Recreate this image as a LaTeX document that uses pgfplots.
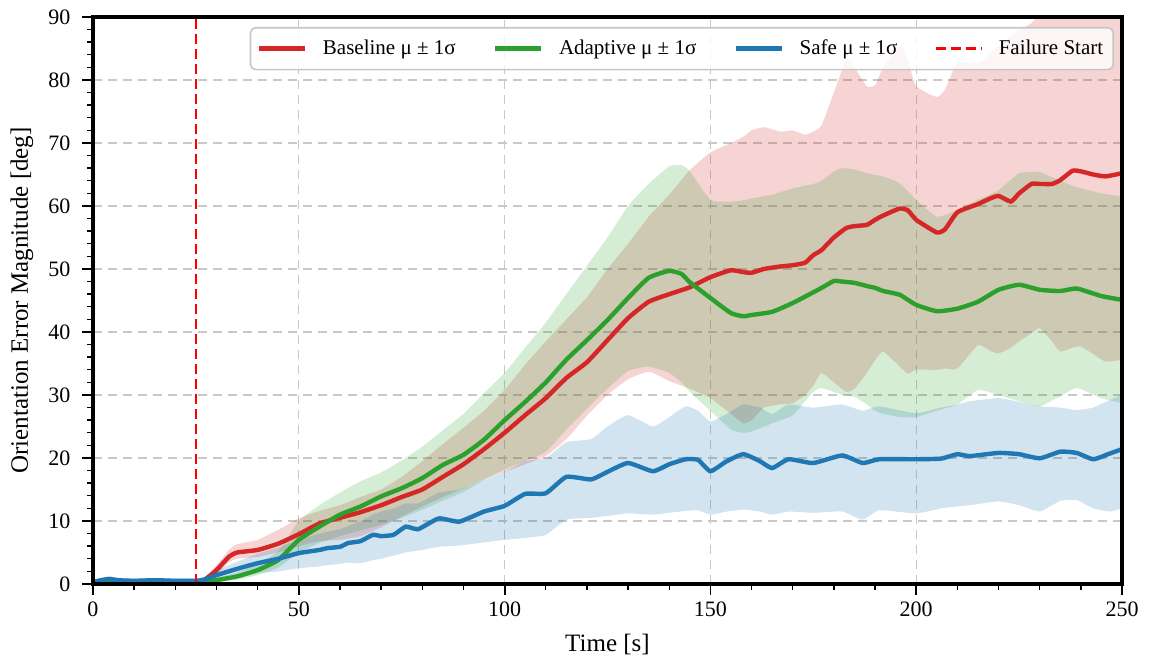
\documentclass[border=0pt]{standalone}
\usepackage{fontspec}
\setmainfont{Liberation Serif}
\usepackage{pgfplots}
\usepackage{pgfplotstable}
\pgfplotsset{compat=1.18}
\usepgfplotslibrary{fillbetween}

\definecolor{tabred}{RGB}{214,39,40}
\definecolor{tabgreen}{RGB}{44,160,44}
\definecolor{tabblue}{RGB}{31,119,180}
\definecolor{gridgray}{RGB}{200,200,200}

% baseline: mean, mean-1sd, mean+1sd
\pgfplotstableread{
t m lo hi
0 0.3 0.1 0.6
5 0.4 0.2 0.7
10 0.4 0.2 0.7
15 0.4 0.2 0.7
20 0.4 0.2 0.7
25 0.4 0.2 0.7
27 0.6 0.3 1.0
30 2.2 1.5 3.0
33 4.3 3.4 5.4
35 5.0 4.0 6.3
40 5.4 4.3 7.0
45 6.4 5.0 8.6
50 7.9 6.0 10.4
55 9.6 6.8 11.6
60 10.5 7.0 12.5
65 11.4 7.6 13.8
70 12.5 9.0 15.0
75 13.8 10.7 17.0
80 15.0 12.3 19.5
85 17.0 13.8 22.2
90 19.0 15.2 24.8
95 21.4 16.6 27.5
100 24.0 17.8 30.8
105 26.8 19.0 34.8
110 29.5 20.3 38.5
115 32.7 23.0 42.0
120 35.2 26.7 45.5
125 38.7 30.0 50.0
130 42.2 32.5 54.0
135 44.8 33.7 58.3
140 46.0 32.2 61.8
145 47.1 31.0 65.7
150 48.7 29.5 68.5
155 49.8 27.0 70.0
158 49.5 25.5 71.0
160 49.4 26.0 72.0
163 50.0 28.0 72.5
167 50.4 28.5 71.8
170 50.6 28.7 72.0
173 51.0 30.0 71.3
175 52.2 31.5 71.8
177 53.0 33.5 72.8
180 55.0 32.0 78.0
183 56.5 30.5 83.2
185 56.8 31.0 82.0
188 57.0 33.5 79.0
190 57.8 35.5 79.2
192 58.5 36.9 82.0
196 59.6 34.5 85.5
198 59.3 33.4 83.0
200 57.8 34.0 79.0
205 55.8 34.0 77.3
207 56.3 34.2 78.5
210 59.0 34.2 82.7
215 60.3 37.9 82.6
218 61.2 37.0 84.2
220 61.6 36.6 85.5
223 60.7 37.5 87.0
225 62.0 38.5 88.0
228 63.5 39.8 89.0
230 63.5 40.6 90.5
233 63.5 38.5 92.0
235 64.1 36.9 93.0
238 65.6 37.5 95.0
240 65.5 37.7 96.0
243 65.0 36.5 96.0
246 64.7 35.3 95.0
250 65.2 35.6 95.0
}\base

% adaptive
\pgfplotstableread{
t m lo hi
0 0.1 0.0 0.3
25 0.1 0.0 0.3
27 0.2 0.05 0.5
30 0.6 0.3 1.0
35 1.2 0.7 1.8
40 2.2 1.4 3.2
45 3.8 2.6 5.2
50 7.0 5.0 10.0
55 9.1 6.5 12.5
60 11.0 7.6 14.5
65 12.3 8.5 16.3
70 13.9 9.4 17.7
75 15.2 10.5 19.6
80 16.8 11.8 21.8
85 18.9 13.2 24.4
90 20.5 14.6 27.0
95 22.9 16.5 30.3
100 26.0 18.2 33.5
105 28.9 19.5 37.5
110 32.0 21.0 41.5
115 35.6 24.5 46.0
120 38.7 27.8 50.5
125 41.9 31.0 55.0
130 45.4 33.8 60.0
135 48.6 34.5 63.5
140 49.7 33.5 66.3
143 49.2 32.0 66.5
145 47.9 30.5 65.5
150 45.4 27.5 61.0
155 43.0 24.5 60.7
158 42.5 24.0 60.9
160 42.7 24.2 61.2
165 43.2 25.5 61.8
170 44.6 26.8 62.8
175 46.3 30.5 63.5
177 47.0 31.1 64.0
180 48.1 30.5 65.5
182 48.0 30.0 66.0
185 47.8 29.7 65.8
188 47.3 28.5 65.2
190 47.0 27.5 64.9
192 46.5 27.0 64.7
196 45.9 26.5 63.6
200 44.3 26.5 61.0
205 43.3 27.5 58.3
210 43.7 28.5 59.4
215 44.8 30.8 61.0
220 46.7 30.0 62.5
225 47.5 29.0 65.2
230 46.7 28.2 65.4
235 46.5 29.8 64.0
239 46.9 31.1 63.0
245 45.7 29.5 62.0
250 45.1 28.7 61.5
}\adapt

% safe
\pgfplotstableread{
t m lo hi
0 0.3 0.0 0.6
2 0.6 0.2 1.0
4 0.8 0.3 1.2
6 0.6 0.2 1.0
10 0.5 0.2 0.9
15 0.6 0.2 0.9
20 0.5 0.2 0.9
25 0.5 0.2 0.9
27 0.7 0.3 1.1
30 1.4 0.7 2.2
35 2.4 1.2 3.5
40 3.3 1.7 4.8
45 4.0 2.0 5.8
50 4.9 2.5 7.0
55 5.4 2.8 8.0
57 5.7 3.0 8.3
60 5.9 3.2 8.7
62 6.5 3.4 9.2
65 6.8 3.3 10.0
68 7.8 3.8 11.0
70 7.6 4.0 11.5
73 7.8 4.5 12.0
76 9.1 5.0 12.8
79 8.7 5.3 12.8
84 10.4 5.9 14.5
89 9.9 6.1 15.0
95 11.5 6.6 16.5
100 12.4 7.0 17.8
105 14.3 7.3 19.5
110 14.4 7.8 20.0
115 17.0 10.2 22.5
121 16.6 10.5 23.0
125 17.8 10.8 25.0
130 19.2 11.2 26.8
136 17.9 11.0 25.0
140 19.0 11.3 26.5
144 19.8 11.6 28.2
147 19.7 11.7 27.5
150 17.9 11.0 25.8
154 19.5 11.5 27.0
158 20.6 11.8 28.5
162 19.5 11.5 28.0
165 18.4 11.0 27.0
169 19.8 11.5 28.5
175 19.2 11.3 28.0
182 20.4 11.5 28.5
187 19.2 10.2 27.5
191 19.8 11.7 28.2
200 19.8 11.2 27.1
206 19.9 12.0 28.0
210 20.6 12.3 28.5
213 20.3 12.5 29.0
220 20.8 13.1 29.5
225 20.6 12.5 28.9
230 19.95 11.5 28.2
235 21.0 13.2 28.0
239 20.8 13.3 27.6
243 19.8 12.0 28.0
247 20.7 11.5 29.2
250 21.4 12.0 30.0
}\safe

\begin{document}
\begin{tikzpicture}
\begin{axis}[
    scale only axis,
    width=514.5pt, height=283.5pt,
    xmin=0, xmax=250, ymin=0, ymax=90,
    xtick={0,50,...,250}, ytick={0,10,...,90},
    minor x tick num=4, minor y tick num=4,
    tick align=outside, tick pos=left,
    major tick length=5.6pt, minor tick length=2.8pt,
    every major tick/.append style={line width=0.9pt, black},
    every minor tick/.append style={line width=0.7pt, black},
    axis line style={line width=2.4pt},
    grid=major,
    major grid style={gridgray, line width=0.6pt, dash pattern=on 4.5pt off 3pt},
    /pgf/number format/assume math mode=true,
    ticklabel style={font=\fontsize{11}{13}\selectfont},
    xticklabel style={inner sep=0pt, anchor=north, yshift=-3pt},
    yticklabel style={inner sep=0pt, anchor=east, xshift=-5.5pt},
    xlabel={Time [s]},
    ylabel={Orientation Error Magnitude [deg]},
    label style={font=\fontsize{12.5}{15}\selectfont},
    xlabel style={at={(axis description cs:0.5,-0.1076)}, anchor=center},
    ylabel style={at={(axis description cs:-0.069,0.5)}, anchor=center},
    legend columns=4,
    legend cell align=left,
    legend image code/.code={\draw[#1] (0pt,0pt) -- (23pt,0pt);},
    legend style={at={(1,1)}, anchor=north east, xshift=-4pt, yshift=-5pt,
        font=\fontsize{10.5}{12}\selectfont,
        draw=gray!45, line width=0.8pt, rounded corners=2.5pt,
        fill=white, fill opacity=0.8, text opacity=1,
        inner xsep=3pt, inner ysep=4pt,
        /tikz/every odd column/.append style={column sep=6pt},
        /tikz/every even column/.append style={column sep=16.5pt}},
]
% bands
\addplot[name path=bu, draw=none, forget plot, smooth, tension=0.3] table[x=t,y=hi]{\base};
\addplot[name path=bl, draw=none, forget plot, smooth, tension=0.3] table[x=t,y=lo]{\base};
\addplot[fill=tabred, fill opacity=0.2, draw=none, forget plot] fill between[of=bu and bl];
\addplot[name path=au, draw=none, forget plot, smooth, tension=0.3] table[x=t,y=hi]{\adapt};
\addplot[name path=al, draw=none, forget plot, smooth, tension=0.3] table[x=t,y=lo]{\adapt};
\addplot[fill=tabgreen, fill opacity=0.2, draw=none, forget plot] fill between[of=au and al];
\addplot[name path=su, draw=none, forget plot, smooth, tension=0.3] table[x=t,y=hi]{\safe};
\addplot[name path=sl, draw=none, forget plot, smooth, tension=0.3] table[x=t,y=lo]{\safe};
\addplot[fill=tabblue, fill opacity=0.2, draw=none, forget plot] fill between[of=su and sl];
% means
\addplot[tabred, line width=2.2pt, smooth, tension=0.3] table[x=t,y=m]{\base};
\addlegendentry{Baseline μ ± 1σ}
\addplot[tabgreen, line width=2.2pt, smooth, tension=0.3] table[x=t,y=m]{\adapt};
\addlegendentry{Adaptive μ ± 1σ}
\addplot[tabblue, line width=2.2pt, smooth, tension=0.3] table[x=t,y=m]{\safe};
\addlegendentry{Safe μ ± 1σ}
\addplot[red, line width=1.2pt, dash pattern=on 5pt off 2.5pt] coordinates {(25,0) (25,90)};
\addlegendentry{Failure Start}
\end{axis}
\draw[line width=2.4pt] (current axis.south west) rectangle (current axis.north east);
\pgfresetboundingbox
\path[use as bounding box] ([xshift=-46.5pt,yshift=-39.5pt]current axis.south west) rectangle ([xshift=14.5pt,yshift=8.5pt]current axis.north east);
\end{tikzpicture}
\end{document}
